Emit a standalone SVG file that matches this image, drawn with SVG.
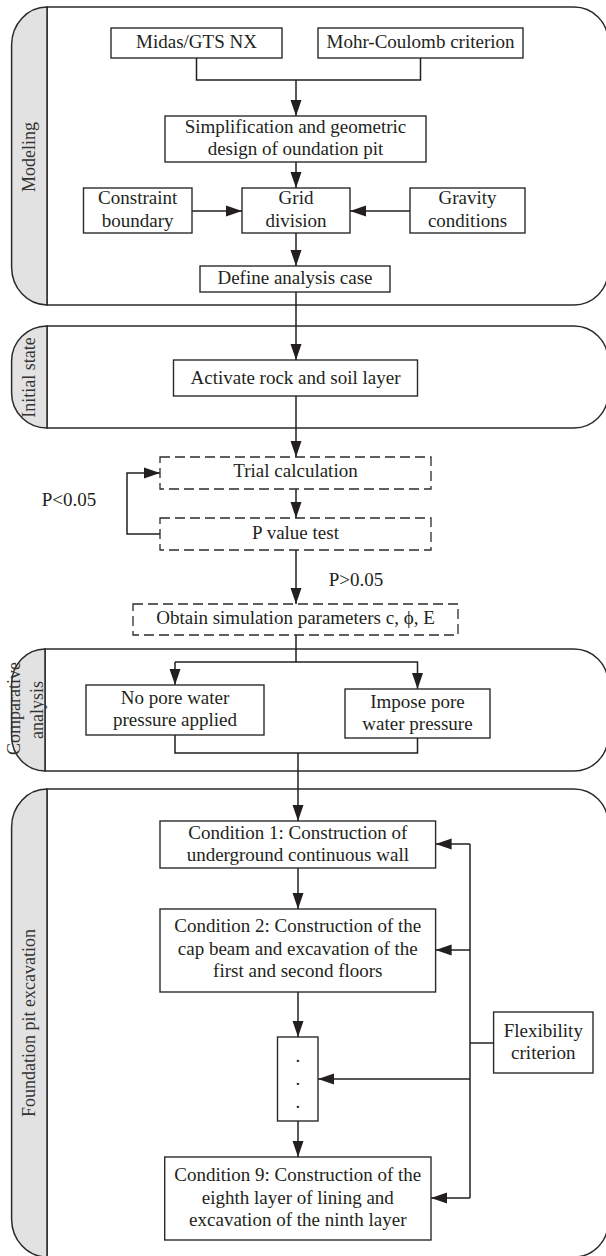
<svg xmlns="http://www.w3.org/2000/svg" width="606" height="1256" viewBox="0 0 606 1256">
<style>
.panel{fill:#fff;stroke:#2b2b2b;stroke-width:1.5}
.strip{fill:#e2e2e2;stroke:#2b2b2b;stroke-width:1.5}
.box{fill:#fff;stroke:#2b2b2b;stroke-width:1.4}
.dash{fill:#fff;stroke:#2b2b2b;stroke-width:1.3;stroke-dasharray:10 5}
.t{font-family:"Liberation Serif","Times New Roman",serif;font-size:19px;fill:#231f20;text-anchor:middle}
.lbl{font-family:"Liberation Serif","Times New Roman",serif;font-size:18px;fill:#333;text-anchor:middle}
.c{fill:none;stroke:#231f20;stroke-width:1.5}
.a{marker-end:url(#arr)}
</style>
<defs>
<marker id="arr" markerUnits="userSpaceOnUse" markerWidth="17" markerHeight="12" refX="16" refY="6" orient="auto">
<path d="M0,0.5 L16,6 L0,11.5 z" fill="#231f20"/>
</marker>
</defs>

<g id="panel-modeling">
<path class="panel" d="M47,7 H574 A34,34 0 0 1 608,41 V271 A34,34 0 0 1 574,305 H47 Z"/>
<path class="strip" d="M47,7 V305 A35.5,38 0 0 1 11.6,267 V45 A35.5,38 0 0 1 47,7 Z"/>
<text class="lbl" transform="translate(35,157) rotate(-90)">Modeling</text>
</g>
<g id="panel-initial">
<path class="panel" d="M47,326 H574 A34,34 0 0 1 608,360 V394 A34,34 0 0 1 574,428 H47 Z"/>
<path class="strip" d="M47,326 V428 A35.5,35 0 0 1 11.6,393 V361 A35.5,35 0 0 1 47,326 Z"/>
<text class="lbl" transform="translate(34.5,377.5) rotate(-90)">Initial state</text>
</g>
<g id="panel-comparative">
<path class="panel" d="M45,649 H574 A34,34 0 0 1 608,683 V737 A34,34 0 0 1 574,771 H45 Z"/>
<path class="strip" d="M45,649 V771 A33.5,35 0 0 1 11.6,736 V684 A33.5,35 0 0 1 45,649 Z"/>
<text class="lbl" transform="translate(19.5,708.5) rotate(-90)">Comparative</text>
<text class="lbl" transform="translate(42.5,710) rotate(-90)">analysis</text>
</g>
<g id="panel-foundation">
<path class="panel" d="M47,789 H574 A34,34 0 0 1 608,823 V1223 A34,34 0 0 1 574,1257 H47 Z"/>
<path class="strip" d="M47,789 V1257 A35.5,38 0 0 1 11.6,1219 V827 A35.5,38 0 0 1 47,789 Z"/>
<text class="lbl" transform="translate(35,1023) rotate(-90)">Foundation pit excavation</text>
</g>

<g id="connectors">
<path class="c" d="M196.5,58 V80 H420.5 V58"/>
<path class="c a" d="M296,80 V116"/>
<path class="c a" d="M296,162 V188"/>
<path class="c a" d="M192,211 H242"/>
<path class="c a" d="M410,211 H350"/>
<path class="c a" d="M296,233 V266"/>
<path class="c a" d="M296,292 V360"/>
<path class="c a" d="M296,396 V457"/>
<path class="c a" d="M296,489 V518"/>
<path class="c a" d="M160,534 H127 V473 H160"/>
<path class="c a" d="M296,550 V604"/>
<path class="c" d="M296,635 V662"/>
<path class="c a" d="M175,662 H417.5 V689"/>
<path class="c a" d="M175,662 V685"/>
<path class="c" d="M175,735 V753 H417.5 V738"/>
<path class="c a" d="M298,753 V821"/>
<path class="c a" d="M298,868 V909"/>
<path class="c a" d="M298,992 V1037"/>
<path class="c a" d="M298,1121 V1157"/>
<path class="c" d="M470,844 V1198"/>
<path class="c" d="M493.6,1043 H470"/>
<path class="c a" d="M470,844 H435.6"/>
<path class="c a" d="M470,950 H435.6"/>
<path class="c a" d="M470,1079 H318"/>
<path class="c a" d="M470,1198 H431"/>
<text class="t" x="69" y="506">P&lt;0.05</text>
<text class="t" x="356" y="585.5">P&gt;0.05</text>
</g>

<g id="n-midas"><rect class="box" x="111" y="28" width="171" height="30"/><text class="t" x="196.5" y="47.5">Midas/GTS NX</text></g>
<g id="n-mohr"><rect class="box" x="318" y="28" width="205" height="30"/><text class="t" x="420.5" y="47.5">Mohr-Coulomb criterion</text></g>
<g id="n-simplification"><rect class="box" x="165" y="116" width="261" height="46"/><text class="t" x="295.5" y="132.5">Simplification and geometric</text><text class="t" x="295.5" y="155">design of oundation pit</text></g>
<g id="n-constraint"><rect class="box" x="83.5" y="188" width="108.5" height="45"/><text class="t" x="137.7" y="204">Constraint</text><text class="t" x="137.7" y="226.5">boundary</text></g>
<g id="n-grid"><rect class="box" x="242" y="188" width="108" height="45"/><text class="t" x="296" y="204">Grid</text><text class="t" x="296" y="226.5">division</text></g>
<g id="n-gravity"><rect class="box" x="410" y="188" width="115" height="45"/><text class="t" x="467.5" y="204">Gravity</text><text class="t" x="467.5" y="226.5">conditions</text></g>
<g id="n-define"><rect class="box" x="200" y="266" width="190" height="26"/><text class="t" x="295" y="283.5">Define analysis case</text></g>
<g id="n-activate"><rect class="box" x="173.5" y="360" width="244" height="36"/><text class="t" x="295.5" y="383.5">Activate rock and soil layer</text></g>
<g id="n-trial"><rect class="dash" x="160" y="457" width="271" height="32"/><text class="t" x="295.5" y="477">Trial calculation</text></g>
<g id="n-pvalue"><rect class="dash" x="160" y="518" width="271" height="32"/><text class="t" x="295.5" y="538.5">P value test</text></g>
<g id="n-obtain"><rect class="dash" x="133" y="604" width="325" height="31"/><text class="t" x="295.5" y="624">Obtain simulation parameters c, ϕ, E</text></g>
<g id="n-nopore"><rect class="box" x="86" y="685" width="178" height="50"/><text class="t" x="175" y="703.5">No pore water</text><text class="t" x="175" y="726">pressure applied</text></g>
<g id="n-impose"><rect class="box" x="345" y="689" width="145" height="49"/><text class="t" x="417.5" y="707.5">Impose pore</text><text class="t" x="417.5" y="730">water pressure</text></g>
<g id="n-cond1"><rect class="box" x="160" y="821" width="275.6" height="47"/><text class="t" x="297.8" y="838.5">Condition 1: Construction of</text><text class="t" x="297.8" y="860.5">underground continuous wall</text></g>
<g id="n-cond2"><rect class="box" x="160" y="909" width="275.6" height="83"/><text class="t" x="297.8" y="932">Condition 2: Construction of the</text><text class="t" x="297.8" y="954.5">cap beam and excavation of the</text><text class="t" x="297.8" y="976.5">first and second floors</text></g>
<g id="n-dots"><rect class="box" x="277.5" y="1037" width="40.5" height="84"/><text class="t" x="297.8" y="1062">.</text><text class="t" x="297.8" y="1085">.</text><text class="t" x="297.8" y="1107.5">.</text></g>
<g id="n-flex"><rect class="box" x="493.6" y="1012" width="99.4" height="61"/><text class="t" x="543.3" y="1036.5">Flexibility</text><text class="t" x="543.3" y="1059">criterion</text></g>
<g id="n-cond9"><rect class="box" x="164.7" y="1157" width="266.3" height="83"/><text class="t" x="297.8" y="1181">Condition 9: Construction of the</text><text class="t" x="297.8" y="1203.5">eighth layer of lining and</text><text class="t" x="297.8" y="1225.5">excavation of the ninth layer</text></g>
</svg>
